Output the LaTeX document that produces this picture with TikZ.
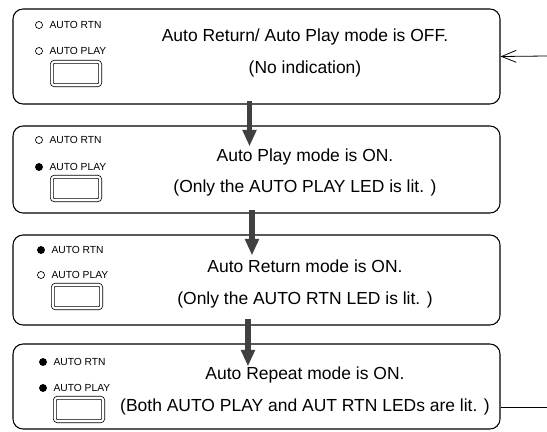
\documentclass[tikz,border=0pt]{standalone}
\usepackage{fontspec}
\setmainfont{Liberation Sans}
\usetikzlibrary{arrows.meta}
\usetikzlibrary{positioning}
\tikzset{
    modebox/.style={
           rectangle,
           rounded corners=7.5pt,
           draw=black, line width=0.8pt,
           minimum width=365.25pt,
           inner sep=0pt,
           },
    modetext/.style={align=center, font=\fontsize{13.1}{23.5}\selectfont},
    ledon/.style={circle, draw=black, fill=black, line width=0.5pt, inner sep=0pt, minimum size=5.3pt},
    ledoff/.style={circle, draw=black, fill=white, line width=0.5pt, inner sep=0pt, minimum size=5.3pt},
    ledname/.style={font=\fontsize{7.7}{9}\selectfont, inner sep=0pt},
    ledbutton/.style={
           rectangle,
           rounded corners=2pt,
           draw=black, line width=0.55pt,
           double=white, double distance=1.6pt,
           minimum width=36.3pt, minimum height=17.6pt,
           inner sep=0pt,
           },
    modearrow/.style={line width=4pt, draw=black!75, -{Triangle[width=10pt,length=12.5pt]},
           shorten <=-3pt, shorten >=-15.75pt},
}

\begin{document}
\begin{tikzpicture}[x=0.75pt,y=-0.75pt]
	\useasboundingbox (0,0) rectangle (547,432);

	\node[modebox, minimum height=71.25pt] (S1) at (256.5,56.5) {};
	\node[modebox, minimum height=65.25pt] (S2) at (256.5,169.5) {};
	\node[modebox, minimum height=67.5pt]  (S3) at (256.5,280) {};
	\node[modebox, minimum height=63.75pt] (S4) at (256.5,386.5) {};

	% box 1: both LEDs off
	\node[ledoff]    (S1rtn)  at (39,25) {};
	\node[ledname]   (S1rtnname) [right=4.8pt of S1rtn] {AUTO RTN};
	\node[ledoff]    (S1play) at (39,51) {};
	\node[ledname]   (S1playname) [right=4.8pt of S1play] {AUTO PLAY};
	\node[ledbutton] (S1btn)  at (76,73.5) {};
	\node[modetext]  (S1txt)  at (305,53) {Auto Return/ Auto Play mode is OFF.\\(No indication)};

	% box 2: AUTO PLAY lit
	\node[ledoff]    (S2rtn)  at (39,140) {};
	\node[ledname]   (S2rtnname) [right=4.8pt of S2rtn] {AUTO RTN};
	\node[ledon]     (S2play) at (39,167) {};
	\node[ledname]   (S2playname) [right=4.8pt of S2play] {AUTO PLAY};
	\node[ledbutton] (S2btn)  at (76,188.5) {};
	\node[modetext]  (S2txt)  at (305,172.5) {Auto Play mode is ON.\\(Only the AUTO PLAY LED is lit. )};

	% box 3: AUTO RTN lit
	\node[ledon]     (S3rtn)  at (41,250) {};
	\node[ledname]   (S3rtnname) [right=4.8pt of S3rtn] {AUTO RTN};
	\node[ledoff]    (S3play) at (41,275) {};
	\node[ledname]   (S3playname) [right=4.8pt of S3play] {AUTO PLAY};
	\node[ledbutton] (S3btn)  at (77,296.5) {};
	\node[modetext]  (S3txt)  at (305,284) {Auto Return mode is ON.\\(Only the AUTO RTN LED is lit. )};

	% box 4: both lit
	\node[ledon]     (S4rtn)  at (43,362) {};
	\node[ledname]   (S4rtnname) [right=4.8pt of S4rtn] {AUTO RTN};
	\node[ledon]     (S4play) at (43,388) {};
	\node[ledname]   (S4playname) [right=4.8pt of S4play] {AUTO PLAY};
	\node[ledbutton] (S4btn)  at (79,409.5) {};
	\node[modetext]  (S4txt)  at (305,391) {Auto Repeat mode is ON.\\(Both AUTO PLAY and AUT RTN LEDs are lit. )};

	\draw[modearrow] ([xshift=-5.25pt]S1.south) -- ([xshift=-5.25pt]S2.north);
	\draw[modearrow] ([xshift=-3.4pt]S2.south) -- ([xshift=-3.4pt]S3.north);
	\draw[modearrow, shorten <=-5pt, shorten >=-17.25pt] ([xshift=-6.4pt]S3.south) -- ([xshift=-6.4pt]S4.north);

	% loop back on the right
	\coordinate (inport)  at (547,56);
	\coordinate (outport) at (547,407);
	\draw[-{Straight Barb[length=11pt,width=9pt]}, line width=0.6pt] (inport) -- (S1.east);
	\draw[line width=0.6pt] (S4.east |- outport) -- (outport);

\end{tikzpicture}
\end{document}
